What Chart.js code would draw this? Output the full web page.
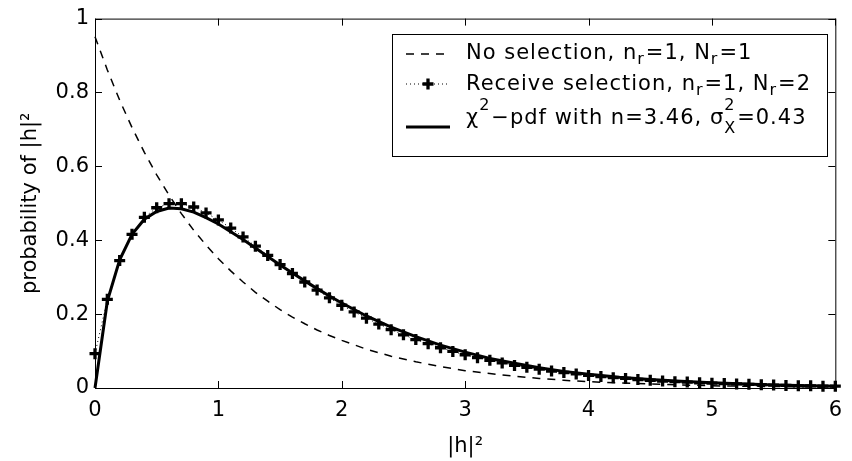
<!DOCTYPE html>
<html>
<head>
<meta charset="utf-8">
<title>probability of |h|²</title>
<script src="https://cdn.jsdelivr.net/npm/chart.js@4.4.1/dist/chart.umd.min.js"></script>
<style>
  body { margin: 0; background: #fff; }
  canvas { display: block; }
</style>
</head>
<body>
<canvas id="pdf-chart" width="852" height="461"></canvas>
<script>
// histogram bins of |h|^2 (left edge of each 0.1 wide bin)
const binX = [0, 0.1, 0.2, 0.3, 0.4, 0.5, 0.6, 0.7, 0.8, 0.9,
  1.0, 1.1, 1.2, 1.3, 1.4, 1.5, 1.6, 1.7, 1.8, 1.9,
  2.0, 2.1, 2.2, 2.3, 2.4, 2.5, 2.6, 2.7, 2.8, 2.9,
  3.0, 3.1, 3.2, 3.3, 3.4, 3.5, 3.6, 3.7, 3.8, 3.9,
  4.0, 4.1, 4.2, 4.3, 4.4, 4.5, 4.6, 4.7, 4.8, 4.9,
  5.0, 5.1, 5.2, 5.3, 5.4, 5.5, 5.6, 5.7, 5.8, 5.9, 6.0];
// receive selection, nr=1, Nr=2
const receiveSel = [0.093, 0.240, 0.345, 0.416, 0.462, 0.488, 0.499, 0.499, 0.490, 0.474,
  0.455, 0.433, 0.409, 0.384, 0.359, 0.334, 0.310, 0.287, 0.265, 0.244,
  0.224, 0.206, 0.189, 0.173, 0.158, 0.144, 0.131, 0.120, 0.109, 0.099,
  0.090, 0.082, 0.075, 0.068, 0.061, 0.056, 0.051, 0.046, 0.042, 0.038,
  0.034, 0.031, 0.028, 0.026, 0.023, 0.021, 0.019, 0.017, 0.016, 0.014,
  0.013, 0.012, 0.011, 0.010, 0.009, 0.008, 0.007, 0.006, 0.006, 0.005, 0.005];

// no selection, nr=1, Nr=1
const noSelX = [0, 0.1, 0.2, 0.3, 0.4, 0.5, 0.6, 0.7, 0.8, 0.9, 1.0,
  1.1, 1.2, 1.3, 1.4, 1.5, 1.6, 1.7, 1.8, 1.9, 2.0,
  2.2, 2.4, 2.6, 2.8, 3.0, 3.2, 3.4, 3.6, 3.8, 4.0, 4.5, 5.0, 5.5, 6.0];
const noSel = [0.951, 0.861, 0.779, 0.705, 0.638, 0.577, 0.522, 0.472, 0.427, 0.387, 0.350,
  0.317, 0.287, 0.259, 0.235, 0.212, 0.192, 0.174, 0.157, 0.142, 0.129,
  0.105, 0.086, 0.071, 0.058, 0.047, 0.039, 0.032, 0.026, 0.021, 0.017, 0.011, 0.006, 0.004, 0.002];

// chi^2 pdf fit, n=3.46, sigma^2=0.43
const chiX = [0, 0.1, 0.2, 0.3, 0.4, 0.5, 0.6, 0.7, 0.8, 0.9, 1.0,
  1.1, 1.2, 1.3, 1.4, 1.5, 1.6, 1.7, 1.8, 1.9, 2.0,
  2.2, 2.4, 2.6, 2.8, 3.0, 3.2, 3.4, 3.6, 3.8, 4.0, 4.25, 4.5, 4.75, 5.0, 5.5, 6.0];
const chiPdf = [0, 0.235, 0.347, 0.416, 0.457, 0.478, 0.487, 0.485, 0.476, 0.461, 0.444,
  0.423, 0.402, 0.379, 0.356, 0.333, 0.311, 0.290, 0.269, 0.249, 0.230,
  0.195, 0.165, 0.139, 0.116, 0.097, 0.080, 0.067, 0.055, 0.045, 0.037, 0.029, 0.023, 0.018, 0.014, 0.008, 0.005];

const xTicks = [0, 1, 2, 3, 4, 5, 6];
const yTicks = [0, 0.2, 0.4, 0.6, 0.8, 1];

// legend rows: plain strings, {sub}, {sup} or both stacked
const legendRows = [
  { kind: 'dash', parts: ['No selection, n', { sub: 'r' }, '=1, N', { sub: 'r' }, '=1'] },
  { kind: 'mark', parts: ['Receive selection, n', { sub: 'r' }, '=1, N', { sub: 'r' }, '=2'] },
  { kind: 'solid', parts: ['\u03c7', { sup: '2' }, '\u2212pdf with n=3.46, \u03c3', { sup: '2', sub: 'X', subDy: 9 }, '=0.43'] }
];

const FONT = "'DejaVu Sans', 'Liberation Sans', sans-serif";
Chart.defaults.font.family = FONT;
Chart.defaults.font.size = 21;
Chart.defaults.color = '#000';

const toPoints = (xs, ys) => xs.map((x, i) => ({ x: x, y: ys[i] }));

// box around the axes with inward tick marks on all four sides
const frameTicks = {
  id: 'frameTicks',
  beforeDatasetsDraw(chart) {
    const { ctx, chartArea: a, scales } = chart;
    const len = 7;
    ctx.save();
    ctx.strokeStyle = '#000';
    ctx.lineWidth = 1;
    ctx.strokeRect(a.left + 0.5, a.top + 0.5, a.right - a.left, a.bottom - a.top);
    ctx.beginPath();
    scales.x.ticks.forEach(t => {
      const px = Math.round(scales.x.getPixelForValue(t.value)) + 0.5;
      ctx.moveTo(px, a.bottom); ctx.lineTo(px, a.bottom - len);
      ctx.moveTo(px, a.top); ctx.lineTo(px, a.top + len);
    });
    scales.y.ticks.forEach(t => {
      const py = Math.round(scales.y.getPixelForValue(t.value)) + 0.5;
      ctx.moveTo(a.left, py); ctx.lineTo(a.left + len, py);
      ctx.moveTo(a.right, py); ctx.lineTo(a.right - len, py);
    });
    ctx.stroke();
    ctx.restore();
  }
};

// draws a run of text with sub/superscripts, returns the end x
function drawParts(ctx, parts, x, y) {
  let cx = x;
  parts.forEach(p => {
    if (typeof p === 'string') {
      ctx.font = '21px ' + FONT;
      ctx.fillText(p, cx, y);
      cx += ctx.measureText(p).width;
    } else {
      ctx.font = '16px ' + FONT;
      let w = 0;
      if (p.sup) {
        ctx.fillText(p.sup, cx, y - 14);
        w = Math.max(w, ctx.measureText(p.sup).width);
      }
      if (p.sub) {
        ctx.fillText(p.sub, cx, y + (p.subDy || 5));
        w = Math.max(w, ctx.measureText(p.sub).width);
      }
      cx += w + 1;
    }
  });
  return cx;
}

const matlabLegend = {
  id: 'matlabLegend',
  afterDraw(chart) {
    const ctx = chart.ctx;
    const box = { left: 392, top: 34, right: 827, bottom: 156 };
    const baselines = [59, 90, 124];
    const sampleY = [54, 84, 127];
    const x0 = 406, x1 = 450, textX = 466;
    ctx.save();
    ctx.fillStyle = '#fff';
    ctx.fillRect(box.left, box.top, box.right - box.left, box.bottom - box.top);
    ctx.strokeStyle = '#000';
    ctx.lineWidth = 1;
    ctx.strokeRect(box.left + 0.5, box.top + 0.5, box.right - box.left, box.bottom - box.top);

    legendRows.forEach((row, i) => {
      const y = sampleY[i];
      ctx.beginPath();
      ctx.moveTo(x0, y); ctx.lineTo(x1, y);
      if (row.kind === 'dash') {
        ctx.setLineDash([8, 7]); ctx.lineWidth = 1.5;
      } else if (row.kind === 'mark') {
        ctx.setLineDash([1, 3]); ctx.lineWidth = 1;
      } else {
        ctx.setLineDash([]); ctx.lineWidth = 3;
      }
      ctx.stroke();
      ctx.setLineDash([]);
      if (row.kind === 'mark') {
        const cx = (x0 + x1) / 2;
        ctx.lineWidth = 3.3;
        ctx.beginPath();
        ctx.moveTo(cx - 5.5, y); ctx.lineTo(cx + 5.5, y);
        ctx.moveTo(cx, y - 5.5); ctx.lineTo(cx, y + 5.5);
        ctx.stroke();
      }
      ctx.fillStyle = '#000';
      ctx.textBaseline = 'alphabetic';
      ctx.textAlign = 'left';
      ctx.letterSpacing = '1px';
      drawParts(ctx, row.parts, textX, baselines[i]);
      ctx.letterSpacing = '0px';
    });
    ctx.restore();
  }
};

const tickLabel = v => String(v);

new Chart(document.getElementById('pdf-chart'), {
  type: 'scatter',
  data: {
    datasets: [
      {
        label: 'chi2 pdf',
        data: toPoints(chiX, chiPdf),
        showLine: true,
        borderColor: '#000',
        borderWidth: 3,
        pointRadius: 0,
        clip: false,
        order: 1
      },
      {
        label: 'receive selection',
        data: toPoints(binX, receiveSel),
        showLine: true,
        borderColor: '#000',
        borderWidth: 1,
        borderDash: [1, 3],
        pointStyle: 'cross',
        pointRadius: 5.5,
        pointBorderWidth: 3.3,
        pointBorderColor: '#000',
        clip: false,
        order: 2
      },
      {
        label: 'no selection',
        data: toPoints(noSelX, noSel),
        showLine: true,
        borderColor: '#000',
        borderWidth: 1.5,
        borderDash: [8, 7],
        pointRadius: 0,
        clip: false,
        order: 3
      }
    ]
  },
  options: {
    responsive: false,
    animation: false,
    devicePixelRatio: 1,
    layout: { padding: { top: 13, right: 7, left: 0, bottom: 0 } },
    plugins: { legend: { display: false }, tooltip: { enabled: false } },
    events: [],
    scales: {
      x: {
        type: 'linear',
        min: 0,
        max: 6,
        afterFit: s => { s.height = 73; },
        afterBuildTicks: s => { s.ticks = xTicks.map(v => ({ value: v })); },
        grid: { display: false, drawTicks: false },
        border: { display: false },
        ticks: { padding: 10, callback: tickLabel, maxRotation: 0 },
        title: { display: true, text: '|h|\u00b2', padding: { top: 0, bottom: 2 } }
      },
      y: {
        type: 'linear',
        min: 0,
        max: 1,
        afterFit: s => { s.width = 95; },
        afterBuildTicks: s => { s.ticks = yTicks.map(v => ({ value: v })); },
        grid: { display: false, drawTicks: false },
        border: { display: false },
        ticks: { padding: 6, callback: tickLabel },
        title: { display: true, text: 'probability of |h|\u00b2', padding: { top: 18, bottom: 0 } }
      }
    }
  },
  plugins: [frameTicks, matlabLegend]
});
</script>
</body>
</html>
